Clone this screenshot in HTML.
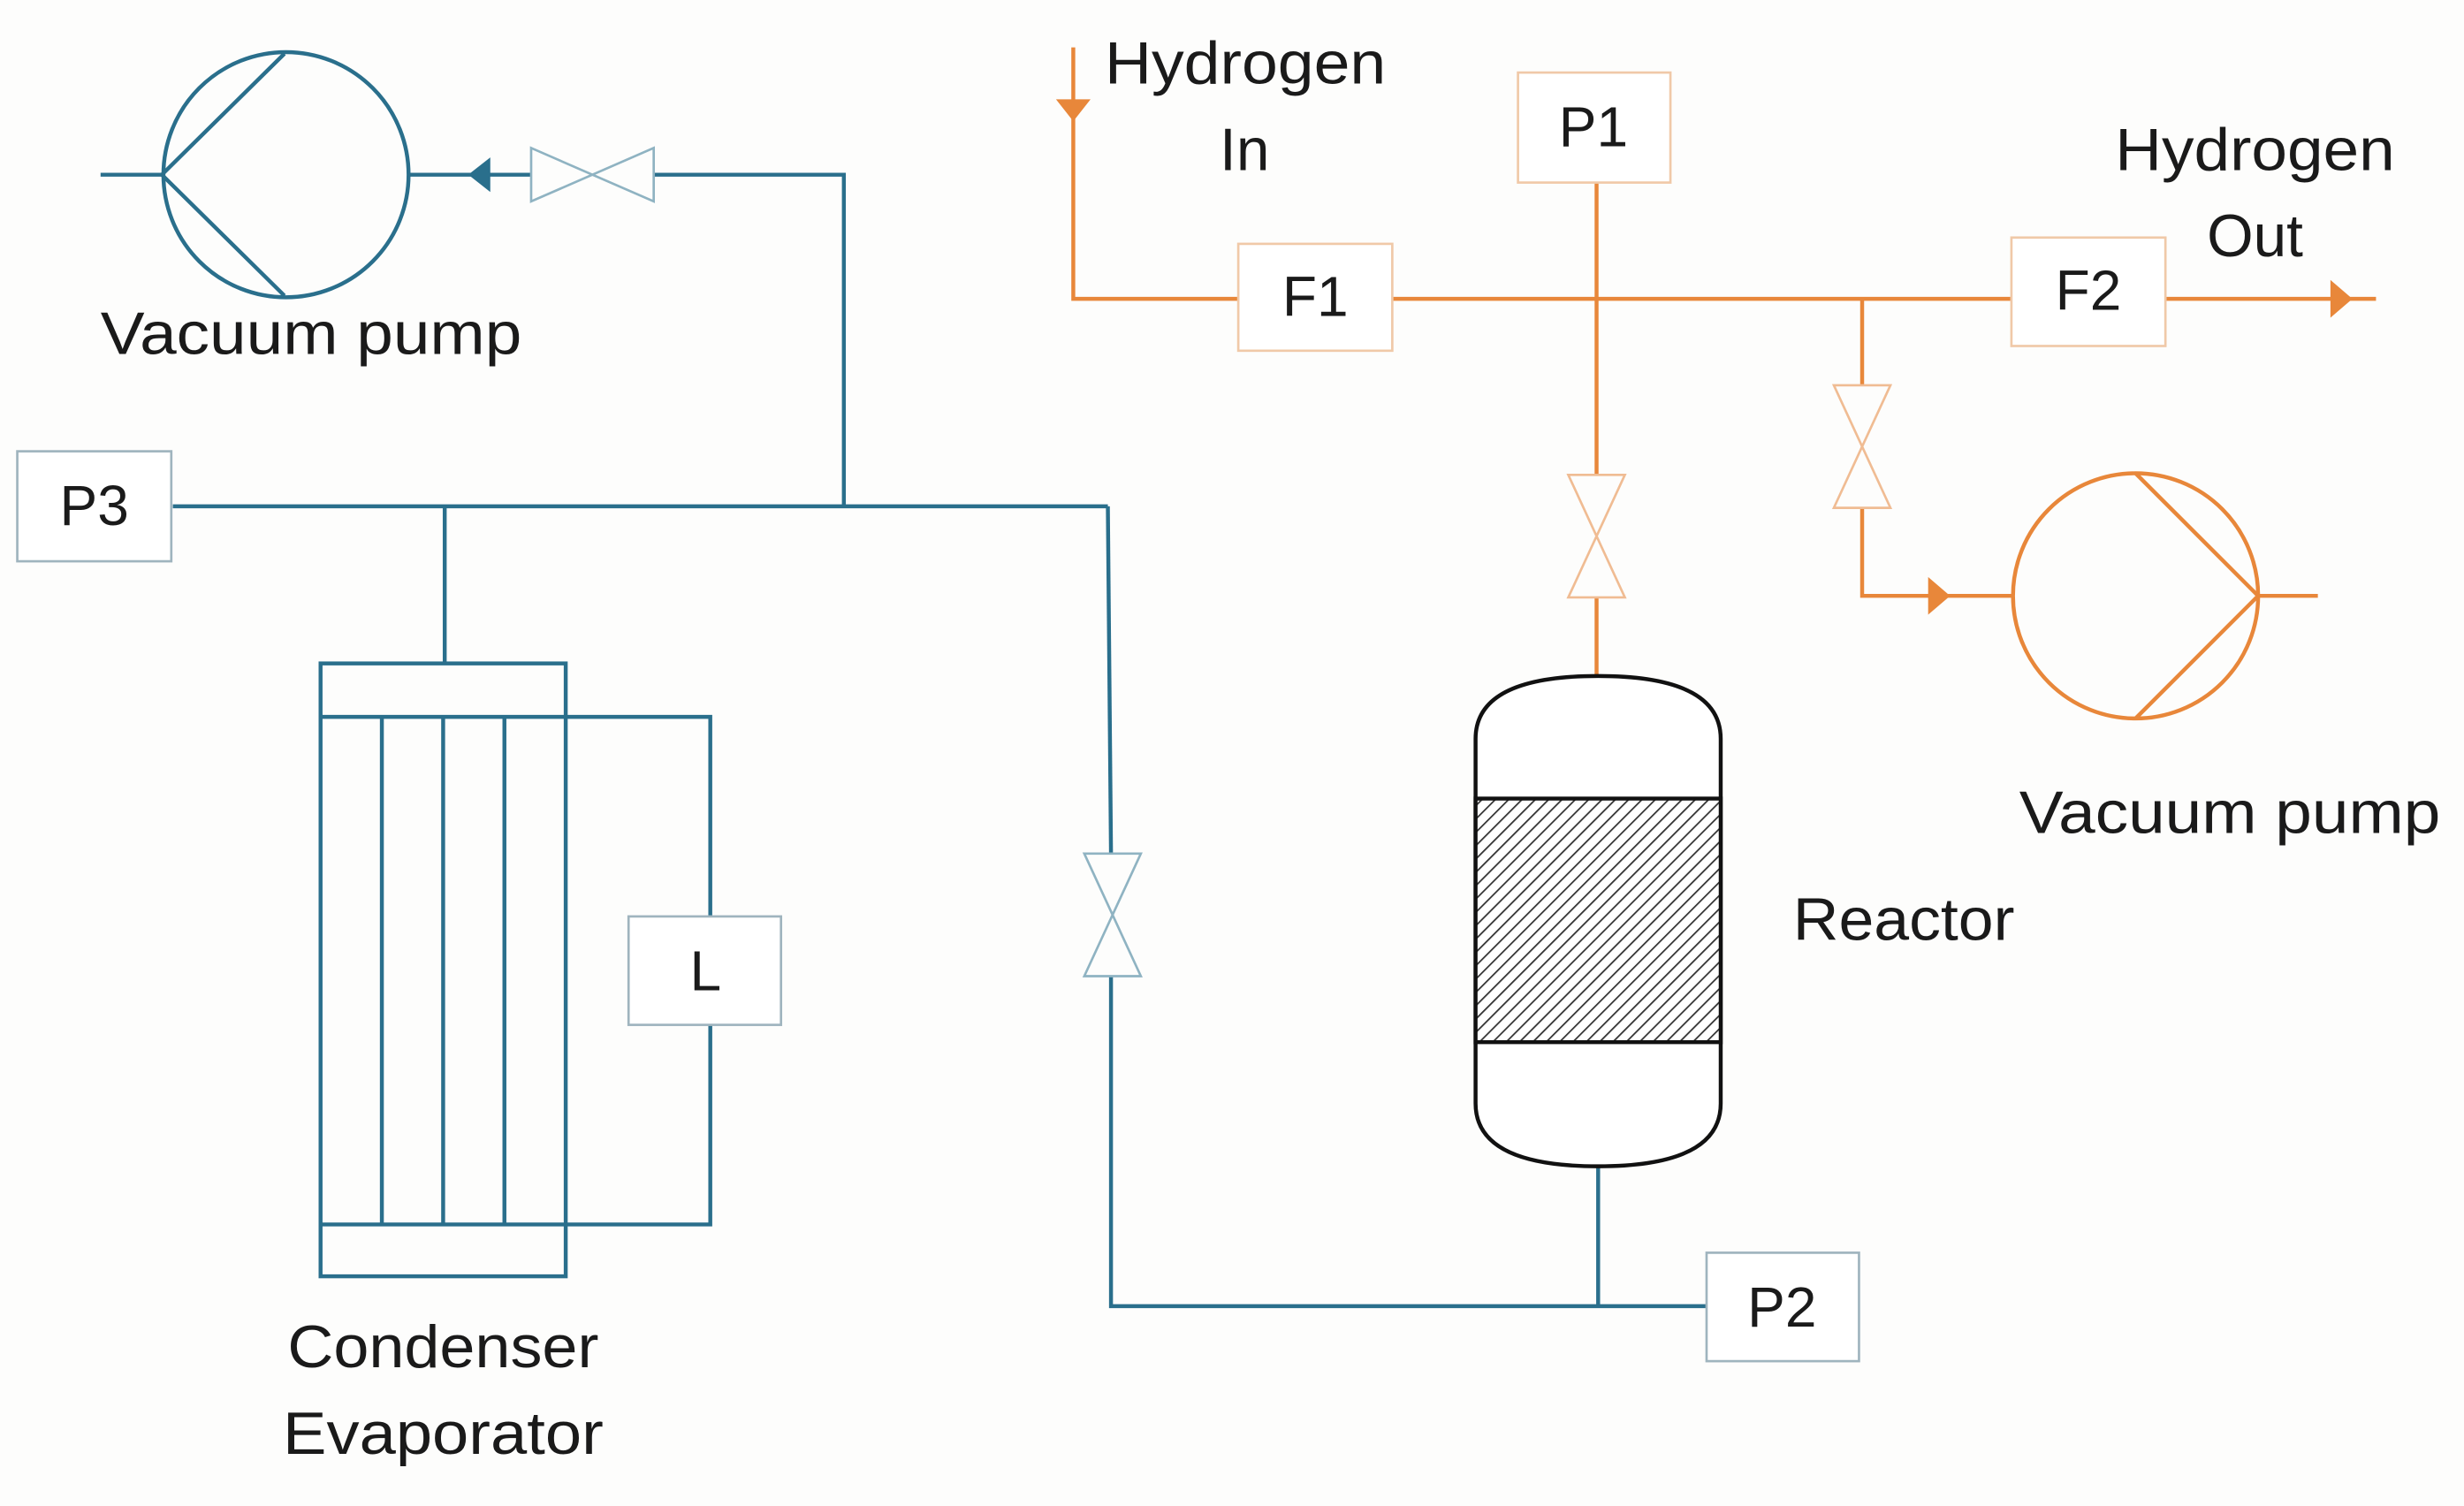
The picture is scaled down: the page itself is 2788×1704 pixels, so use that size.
<!DOCTYPE html>
<html><head><meta charset="utf-8"><style>
html,body{margin:0;padding:0;background:#fdfdfc;}
svg{display:block;}
text{font-family:"Liberation Sans",sans-serif;fill:#1a1a1a;}
</style></head><body>
<svg width="2788" height="1704" viewBox="0 0 1568 958" xmlns="http://www.w3.org/2000/svg">
<defs>
<pattern id="h" patternUnits="userSpaceOnUse" width="6" height="6" patternTransform="rotate(45)">
<rect width="6" height="6" fill="#fff"/><line x1="0" y1="0" x2="0" y2="6" stroke="#333" stroke-width="2"/>
</pattern>
</defs>
<rect width="1568" height="958" fill="#fdfdfc"/>
<g fill="none" stroke="#2a6f8c" stroke-width="2.5">
<circle cx="182" cy="111" r="78"/>
<line x1="103" y1="111" x2="181" y2="34"/>
<line x1="103" y1="111" x2="181" y2="188"/>
<line x1="64" y1="111" x2="103" y2="111"/>
<line x1="260" y1="111" x2="338" y2="111"/>
<polyline points="416,111 537,111 537,322"/>
<line x1="110" y1="322" x2="705" y2="322"/>
<polyline points="705,322 707,543"/>
<polyline points="707,621 707,831 1086,831"/>
<line x1="1017" y1="742" x2="1017" y2="831"/>
<line x1="283" y1="322" x2="283" y2="422"/>
<rect x="204" y="422" width="156" height="390"/>
<polyline points="204,456 452,456 452,583"/>
<polyline points="204,779 452,779 452,652"/>
<line x1="243" y1="456" x2="243" y2="779"/>
<line x1="282" y1="456" x2="282" y2="779"/>
<line x1="321" y1="456" x2="321" y2="779"/>
</g>
<polygon points="298,111 312,100 312,122" fill="#2a6f8c"/>
<g fill="none" stroke="#8fb3c2" stroke-width="1.5">
<polygon points="338,94 416,128 416,94 338,128"/>
<polygon points="690,543 726,543 690,621 726,621"/>
</g>
<g fill="#fff" stroke="#9fb4be" stroke-width="1.5">
<rect x="11" y="287" width="98" height="70"/>
<rect x="400" y="583" width="97" height="69"/>
<rect x="1086" y="797" width="97" height="69"/>
</g>
<g fill="none" stroke="#e8873a" stroke-width="2.5">
<polyline points="683,30 683,190 788,190"/>
<line x1="886" y1="190" x2="1280" y2="190"/>
<line x1="1378" y1="190" x2="1512" y2="190"/>
<line x1="1016" y1="116" x2="1016" y2="302"/>
<line x1="1016" y1="380" x2="1016" y2="430"/>
<line x1="1185" y1="190" x2="1185" y2="245"/>
<polyline points="1185,323 1185,379 1280,379"/>
<circle cx="1359" cy="379" r="78"/>
<line x1="1437" y1="379" x2="1359" y2="301"/>
<line x1="1437" y1="379" x2="1359" y2="457"/>
<line x1="1437" y1="379" x2="1475" y2="379"/>
</g>
<polygon points="672,63 694,63 683,77" fill="#e8873a"/>
<polygon points="1483,178 1483,202 1497,190" fill="#e8873a"/>
<polygon points="1227,367 1227,391 1241,379" fill="#e8873a"/>
<g fill="none" stroke="#f0bc93" stroke-width="1.5">
<polygon points="998,302 1034,302 998,380 1034,380"/>
<polygon points="1167,245 1203,245 1167,323 1203,323"/>
</g>
<g fill="#fff" stroke="#f0c9a8" stroke-width="1.5">
<rect x="788" y="155" width="98" height="68"/>
<rect x="966" y="46" width="97" height="70"/>
<rect x="1280" y="151" width="98" height="69"/>
</g>
<path d="M939,470 Q939,430 1017,430 Q1095,430 1095,470 L1095,702 Q1095,742 1017,742 Q939,742 939,702 Z" fill="#fff" stroke="#111" stroke-width="2.5"/>
<rect x="939" y="508" width="156" height="155" fill="url(#h)" stroke="#111" stroke-width="2.5"/>
<g font-size="38">
<text x="64" y="225" textLength="268" lengthAdjust="spacingAndGlyphs">Vacuum pump</text>
<text x="1285" y="530" textLength="268" lengthAdjust="spacingAndGlyphs">Vacuum pump</text>
<text x="1141" y="598" textLength="141" lengthAdjust="spacingAndGlyphs">Reactor</text>
<text x="183" y="870" textLength="198" lengthAdjust="spacingAndGlyphs">Condenser</text>
<text x="180" y="925" textLength="204" lengthAdjust="spacingAndGlyphs">Evaporator</text>
<text x="703" y="53" textLength="179" lengthAdjust="spacingAndGlyphs">Hydrogen</text>
<text x="792" y="108" text-anchor="middle">In</text>
<text x="1346" y="108" textLength="178" lengthAdjust="spacingAndGlyphs">Hydrogen</text>
<text x="1435" y="163" text-anchor="middle">Out</text>
</g>
<g font-size="36">
<text x="60" y="334" text-anchor="middle">P3</text>
<text x="449" y="630" text-anchor="middle">L</text>
<text x="1134" y="844" text-anchor="middle">P2</text>
<text x="837" y="201" text-anchor="middle">F1</text>
<text x="1014" y="93" text-anchor="middle">P1</text>
<text x="1329" y="197" text-anchor="middle">F2</text>
</g>
</svg>
</body></html>
